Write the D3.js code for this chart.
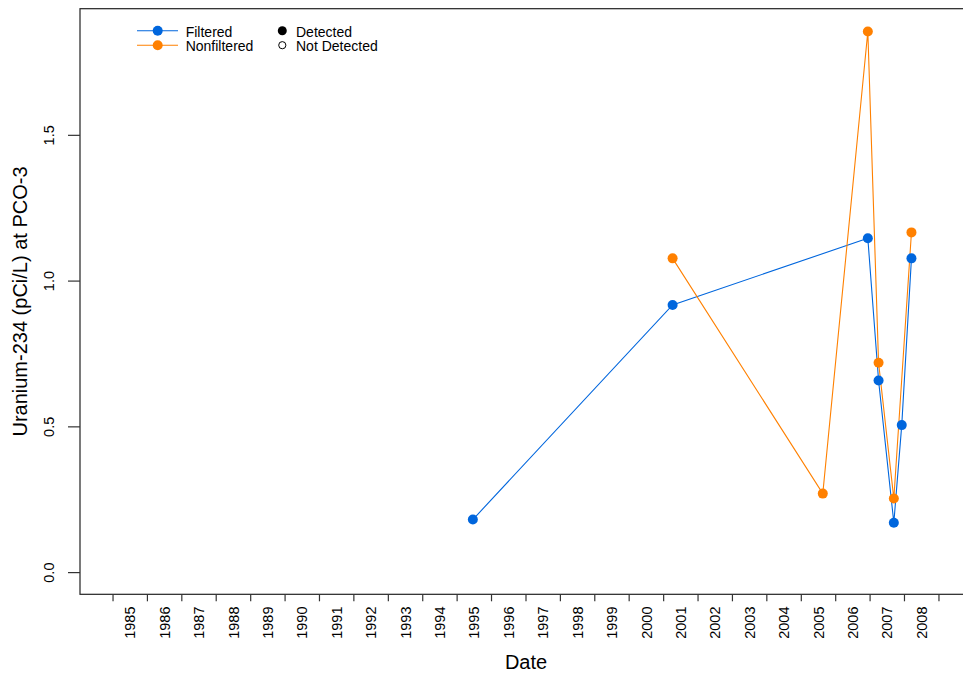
<!DOCTYPE html>
<html>
<head>
<meta charset="utf-8">
<script src="https://cdn.jsdelivr.net/npm/d3@7"></script>
<style>
  html, body { margin: 0; padding: 0; background: #fff; }
  svg { display: block; font-family: "Liberation Sans", Arial, Helvetica, sans-serif; }
</style>
</head>
<body>
<svg id="chart" width="963" height="677"></svg>
<script>
// ---- data ----
const filteredDates = ["1995-06-17", "2001-04-06", "2006-12-08", "2007-04-01", "2007-09-10", "2007-12-03", "2008-03-15"];
const filteredValues = [0.182, 0.918, 1.147, 0.659, 0.171, 0.506, 1.078];
const filteredDetected = [true, true, true, true, true, true, true];

const nonfilteredDates = ["2001-04-06", "2005-08-17", "2006-12-08", "2007-04-01", "2007-09-10", "2008-03-15"];
const nonfilteredValues = [1.078, 0.271, 1.856, 0.72, 0.254, 1.167];
const nonfilteredDetected = [true, true, true, true, true, true];

const yTicks = [0.0, 0.5, 1.0, 1.5];
const yearTicks = d3.range(1985, 2010);      // tick marks at Jan 1
const yearLabels = d3.range(1985, 2009);     // labels at mid-year

const seriesNames = ["Filtered", "Nonfiltered"];
const seriesColors = ["#0066dd", "#ff8000"];
const detectNames = ["Detected", "Not Detected"];

const xTitle = "Date";
const yTitle = "Uranium-234 (pCi/L) at PCO-3";

(function () {
// ---- layout ----
const svg = d3.select("#chart");
const pL = 80, pR = 972, pT = 8.7, pB = 594.3;

const parse = d3.timeParse("%Y-%m-%d");
const t0 = new Date(1985, 0, 1).getTime(), t1 = new Date(2009, 0, 1).getTime();
const padT = (t1 - t0) * 0.04;
const x = d3.scaleTime().domain([new Date(t0 - padT), new Date(t1 + padT)]).range([pL, pR]);
const yMin = 0, yMax = 1.86, padY = (yMax - yMin) * 0.04;
const y = d3.scaleLinear().domain([yMin - padY, yMax + padY]).range([pB, pT]);

// box
svg.append("rect").attr("x", pL).attr("y", pT).attr("width", pR - pL).attr("height", pB - pT)
  .attr("fill", "none").attr("stroke", "#222").attr("stroke-width", 1.2);

// y axis ticks
const yAx = svg.append("g");
yAx.selectAll("line").data(yTicks).join("line")
  .attr("x1", pL - 12).attr("x2", pL).attr("y1", d => y(d)).attr("y2", d => y(d))
  .attr("stroke", "#333").attr("stroke-width", 1.2);
yAx.selectAll("text").data(yTicks).join("text")
  .attr("transform", d => `translate(53.5,${y(d)}) rotate(-90)`)
  .attr("text-anchor", "middle").attr("font-size", 14.5).attr("fill", "#000")
  .text(d => d3.format(".1f")(d));

// x axis ticks
const xAx = svg.append("g");
xAx.selectAll("line").data(yearTicks).join("line")
  .attr("x1", d => x(new Date(d, 0, 1))).attr("x2", d => x(new Date(d, 0, 1)))
  .attr("y1", pB).attr("y2", pB + 7)
  .attr("stroke", "#333").attr("stroke-width", 1.2);
xAx.selectAll("text").data(yearLabels).join("text")
  .attr("transform", d => `translate(${x(new Date(d, 6, 1))},606.5) rotate(-90)`)
  .attr("text-anchor", "end").attr("dy", "0.36em").attr("font-size", 14.5).attr("fill", "#000")
  .text(d => d);

// axis titles
svg.append("text").attr("x", (pL + pR) / 2).attr("y", 669).attr("text-anchor", "middle")
  .attr("font-size", 20).text(xTitle);
svg.append("text").attr("transform", `translate(27,${(pT + pB) / 2}) rotate(-90)`)
  .attr("text-anchor", "middle").attr("font-size", 20).text(yTitle);

// series
const series = [
  { dates: filteredDates, values: filteredValues, det: filteredDetected, color: seriesColors[0] },
  { dates: nonfilteredDates, values: nonfilteredValues, det: nonfilteredDetected, color: seriesColors[1] }
];
const line = d3.line().x(d => x(d.date)).y(d => y(d.value));
const g = svg.append("g");
series.forEach(s => {
  s.pts = s.dates.map((d, i) => ({ date: parse(d), value: s.values[i], det: s.det[i] }));
  g.append("path").datum(s.pts).attr("d", line).attr("fill", "none")
    .attr("stroke", s.color).attr("stroke-width", 1.1);
});
series.forEach(s => {
  g.selectAll(null).data(s.pts).join("circle")
    .attr("cx", d => x(d.date)).attr("cy", d => y(d.value)).attr("r", 5)
    .attr("fill", d => d.det ? s.color : "#fff")
    .attr("stroke", s.color).attr("stroke-width", d => d.det ? 0 : 1.2);
});

// legend
const lg = svg.append("g");
const rowsY = [30.7, 45.2];
const baseY = [37.3, 51.3];
seriesNames.forEach((n, i) => {
  lg.append("line").attr("x1", 137).attr("x2", 178).attr("y1", rowsY[i]).attr("y2", rowsY[i])
    .attr("stroke", seriesColors[i]).attr("stroke-width", 1.1);
  lg.append("circle").attr("cx", 157.7).attr("cy", rowsY[i]).attr("r", 5).attr("fill", seriesColors[i]);
  lg.append("text").attr("x", 185.7).attr("y", baseY[i]).attr("font-size", 14).text(n);
});
detectNames.forEach((n, i) => {
  lg.append("circle").attr("cx", 282.3).attr("cy", rowsY[i]).attr("r", i === 0 ? 4.5 : 3.6)
    .attr("fill", i === 0 ? "#000" : "#fff").attr("stroke", "#000").attr("stroke-width", i === 0 ? 0 : 1);
  lg.append("text").attr("x", 296).attr("y", baseY[i]).attr("font-size", 14).text(n);
});
})();
</script>
</body>
</html>
